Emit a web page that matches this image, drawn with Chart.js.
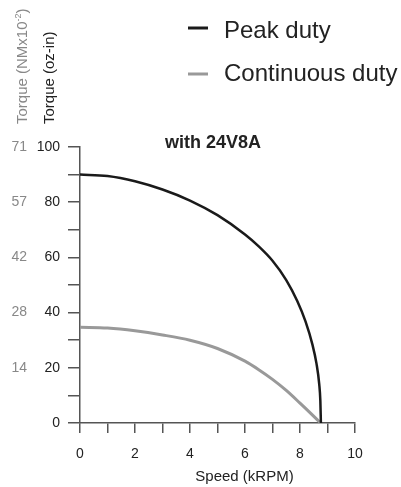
<!DOCTYPE html>
<html>
<head>
<meta charset="utf-8">
<script src="https://cdn.jsdelivr.net/npm/chart.js@4"></script>
<style>
  html, body { margin: 0; padding: 0; background: #fff; }
</style>
</head>
<body>
<canvas id="chart" width="401" height="487"></canvas>
<script>
// torque/speed curves, speed in kRPM, torque in oz-in
const peakSpeed  = [0, 1, 2, 3, 4, 5, 6, 6.5, 7, 7.5, 7.9, 8.2, 8.45, 8.6, 8.7, 8.74, 8.76];
const peakTorque = [90, 89.5, 87.6, 84.6, 80.6, 75.3, 68.3, 64, 58.8, 51.8, 44.2, 36.8, 28.5, 21.5, 14, 8, 0];
const contSpeed  = [0, 1, 2, 3, 4, 5, 6, 6.5, 7, 7.5, 8, 8.4, 8.75];
const contTorque = [34.7, 34.4, 33.4, 31.9, 30, 27, 22.4, 19.3, 15.8, 11.8, 7.2, 3.4, 0];

const speedTicks = [0, 2, 4, 6, 8, 10];
const torqueTicks = [0, 20, 40, 60, 80, 100];
const nmTickLabels = ['', '14', '28', '42', '57', '71'];

const FONT = '"Liberation Sans", Arial, sans-serif';
const AXIS = '#555';

const toPoints = (xs, ys) => xs.map((x, i) => ({ x, y: ys[i] }));

// title, legend and axis captions are drawn by hand
const captions = {
  id: 'captions',
  afterDraw(chart) {
    const ctx = chart.ctx;
    ctx.save();
    ctx.fillStyle = '#222';
    ctx.textBaseline = 'alphabetic';

    ctx.font = 'bold 18px ' + FONT;
    ctx.textAlign = 'center';
    ctx.fillText('with 24V8A', 213, 148);

    ctx.textAlign = 'left';
    ctx.font = '24px ' + FONT;
    const legendRows = [
      { ds: chart.data.datasets[0], y: 28, base: 38 },
      { ds: chart.data.datasets[1], y: 74, base: 80.5 }
    ];
    legendRows.forEach(({ ds, y, base }) => {
      ctx.strokeStyle = ds.borderColor;
      ctx.lineWidth = 3;
      ctx.beginPath();
      ctx.moveTo(188, y);
      ctx.lineTo(208, y);
      ctx.stroke();
      ctx.fillStyle = '#222';
      ctx.fillText(ds.label, 224, base);
    });

    // rotated y titles
    ctx.save();
    ctx.translate(53.5, 124);
    ctx.rotate(-Math.PI / 2);
    ctx.font = '15px ' + FONT;
    ctx.fillStyle = '#222';
    ctx.fillText('Torque (oz-in)', 0, 0);
    ctx.restore();

    ctx.save();
    ctx.translate(26.5, 124);
    ctx.rotate(-Math.PI / 2);
    ctx.fillStyle = '#888';
    ctx.font = '15px ' + FONT;
    let x = 0;
    const main = 'Torque (NMx10';
    ctx.fillText(main, x, 0);
    x += ctx.measureText(main).width;
    ctx.font = '9px ' + FONT;
    ctx.fillText('-2', x, -6);
    x += ctx.measureText('-2').width;
    ctx.font = '15px ' + FONT;
    ctx.fillText(')', x, 0);
    ctx.restore();

    ctx.font = '15px ' + FONT;
    ctx.textAlign = 'center';
    ctx.fillStyle = '#222';
    ctx.fillText('Speed (kRPM)', 244.5, 481);
    ctx.restore();
  }
};

new Chart(document.getElementById('chart'), {
  type: 'line',
  data: {
    datasets: [
      {
        label: 'Peak duty',
        data: toPoints(peakSpeed, peakTorque),
        borderColor: '#1a1a1a',
        borderWidth: 2.5,
        pointRadius: 0,
        cubicInterpolationMode: 'monotone'
      },
      {
        label: 'Continuous duty',
        data: toPoints(contSpeed, contTorque),
        borderColor: '#999',
        borderWidth: 3,
        pointRadius: 0,
        cubicInterpolationMode: 'monotone'
      }
    ]
  },
  options: {
    responsive: false,
    devicePixelRatio: 1,
    animation: false,
    layout: { padding: { top: 147, right: 46, left: 0, bottom: 0 } },
    plugins: { legend: { display: false }, tooltip: { enabled: false } },
    scales: {
      x: {
        type: 'linear',
        min: 0,
        max: 10,
        afterFit: s => { s.height = 64; },
        ticks: {
          stepSize: 1,
          autoSkip: false,
          maxRotation: 0,
          padding: 13,
          color: '#222',
          font: { family: FONT, size: 14 },
          callback: v => speedTicks.includes(v) ? v : ''
        },
        grid: { drawOnChartArea: false, tickLength: 10, color: AXIS, lineWidth: 1.5 },
        border: { color: AXIS, width: 1.5 }
      },
      y: {
        min: 0,
        max: 100,
        weight: 0,
        afterFit: s => { s.width = 46; },
        ticks: {
          stepSize: 10,
          autoSkip: false,
          padding: 8,
          color: '#222',
          font: { family: FONT, size: 14 },
          callback: v => torqueTicks.includes(v) ? v : ''
        },
        grid: { drawOnChartArea: false, tickLength: 12, color: AXIS, lineWidth: 1.5 },
        border: { color: AXIS, width: 1.5 }
      },
      y2: {
        position: 'left',
        min: 0,
        max: 100,
        weight: 1,
        afterFit: s => { s.width = 34; },
        ticks: {
          stepSize: 20,
          autoSkip: false,
          padding: 7,
          color: '#888',
          font: { family: FONT, size: 14 },
          callback: v => nmTickLabels[torqueTicks.indexOf(v)] ?? ''
        },
        grid: { display: false, drawTicks: false },
        border: { display: false }
      }
    }
  },
  plugins: [captions]
});
</script>
</body>
</html>
